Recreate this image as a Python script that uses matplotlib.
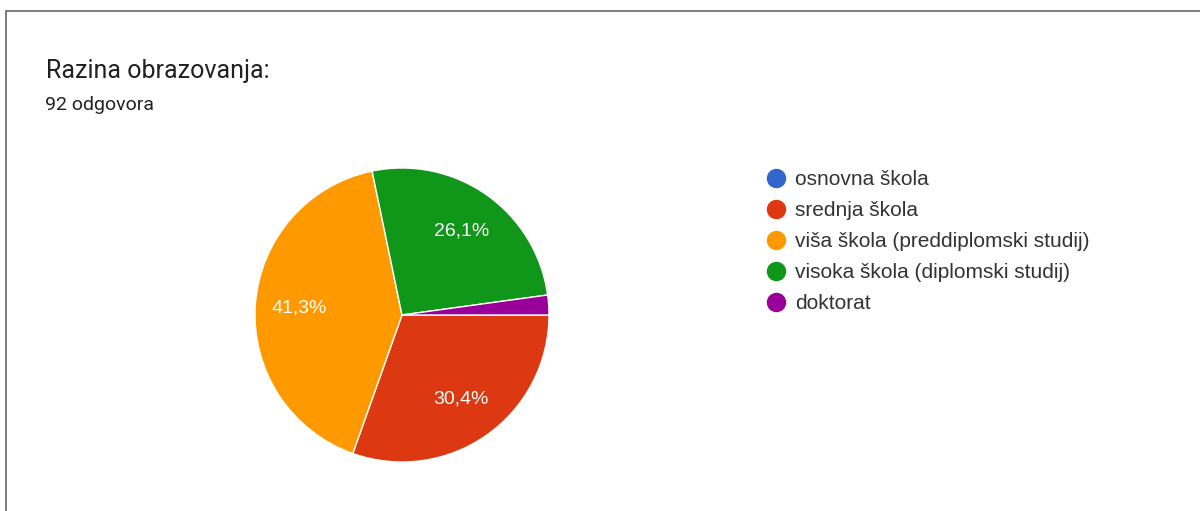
import matplotlib
matplotlib.use("Agg")
from matplotlib import pyplot as plt
from matplotlib.lines import Line2D
from matplotlib.patches import Rectangle

plt.rcParams['font.family'] = ['Roboto', 'DejaVu Sans']

# podaci
title = "Razina obrazovanja:"
subtitle = "92 odgovora"
labels = ["osnovna škola", "srednja škola", "viša škola (preddiplomski studij)",
          "visoka škola (diplomski studij)", "doktorat"]
counts = [0, 28, 38, 24, 2]
colors = ["#3366cc", "#dc3912", "#ff9900", "#109618", "#990099"]

W, H = 1200, 511
fig = plt.figure(figsize=(W / 100, H / 100), dpi=100)
fig.patch.set_facecolor("white")

# okvir
fig.patches.append(Rectangle((6 / W, -0.1), 1.2, 1 - 11 / H + 0.1, transform=fig.transFigure,
                             fill=False, edgecolor="#666666", linewidth=1.2))

fig.text(46 / W, 1 - 71 / H, title, fontsize=18, color="#212121", va="center")
fig.text(45 / W, 1 - 105 / H, subtitle, fontsize=14, color="#212121", va="center")

# pie
cx, cy, r = 402, 315, 147
side = 2 * r * 1.02
ax = fig.add_axes([(cx - side / 2) / W, (H - cy - side / 2) / H, side / W, side / H])


def pct(p):
    return ("%.1f%%" % p).replace(".", ",") if p > 5 else ""


wedges, texts, autotexts = ax.pie(counts, colors=colors, startangle=0, counterclock=False,
                                  autopct=pct, pctdistance=0.7,
                                  wedgeprops=dict(edgecolor="white", linewidth=1.0))
for t in autotexts:
    t.set_color("white")
    t.set_fontsize(14)
    t.set_family(["Liberation Sans", "DejaVu Sans"])
ax.set_xlim(-1.02, 1.02)
ax.set_ylim(-1.02, 1.02)
ax.set_aspect("equal")
ax.axis("off")

# legenda
handles = [Line2D([0], [0], marker="o", linestyle="none", markersize=13,
                  markerfacecolor=c, markeredgecolor=c) for c in colors]
leg = fig.legend(handles, labels, loc="upper left", bbox_to_anchor=(766 / W, 1 - 170 / H),
                 frameon=False, prop={"family": ["Liberation Sans", "DejaVu Sans"], "size": 15},
                 handlelength=1.0, handletextpad=0.39,
                 labelspacing=0.58, borderaxespad=0, borderpad=0)
for t in leg.get_texts():
    t.set_color("#333333")

fig.savefig("out.png", dpi=100)
